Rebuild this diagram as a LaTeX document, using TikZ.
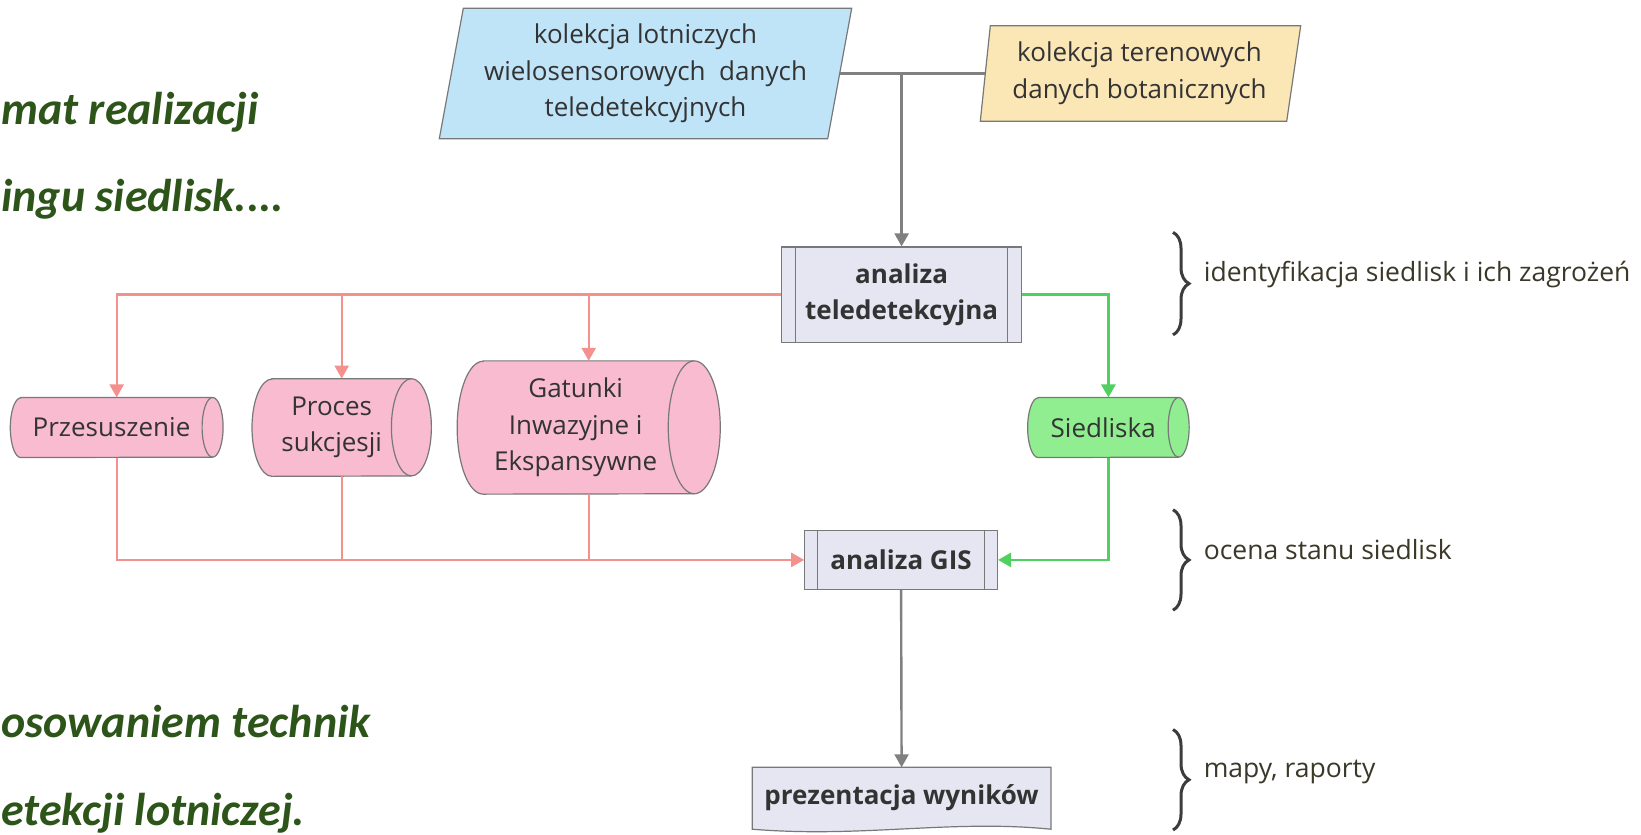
\documentclass[tikz,border=0pt]{standalone}
\usepackage{fontspec}
\setmainfont{Open Sans}
\newfontfamily\titlefont{Carlito}
\usetikzlibrary{arrows.meta,decorations.pathreplacing,calc}
\definecolor{bluefill}{RGB}{191,228,248}
\definecolor{yellowfill}{RGB}{251,230,182}
\definecolor{lavfill}{RGB}{230,230,242}
\definecolor{pinkfill}{RGB}{248,187,208}
\definecolor{greenfill}{RGB}{144,238,144}
\definecolor{redcol}{RGB}{244,144,142}
\definecolor{greencol}{RGB}{80,208,96}
\definecolor{graycol}{RGB}{128,128,128}
\definecolor{bordercol}{RGB}{120,120,120}
\definecolor{txtcol}{RGB}{51,51,51}
\definecolor{sidecol}{RGB}{58,56,40}
\definecolor{titlegreen}{RGB}{45,85,25}
\definecolor{bracecol}{RGB}{60,60,60}
\newcommand\drawcyl[4]{%
  \filldraw[draw=bordercol, line width=1.2pt, fill=#4]
    ([xshift=#2]#1.north west) -- ([xshift=-#2]#1.north east)
    arc[start angle=90, end angle=-90, x radius=#2, y radius=#3]
    -- ([xshift=#2]#1.south west)
    arc[start angle=270, end angle=90, x radius=#2, y radius=#3] -- cycle;
  \draw[draw=bordercol, line width=1.2pt]
    ([xshift=-#2]#1.north east)
    arc[start angle=90, end angle=270, x radius=#2, y radius=#3];}
\begin{document}
\begin{tikzpicture}[x=1pt,y=1pt,
  shapeonly/.style={inner sep=0pt, draw=none},
  lbl/.style={text=txtcol, font=\fontsize{26}{36.6}\selectfont, align=center, inner sep=0pt},
  blbl/.style={text=txtcol, font=\fontsize{26}{35.6}\selectfont\bfseries, align=center, inner sep=0pt},
  sidelbl/.style={text=sidecol, font=\fontsize{26.5}{34}\selectfont, anchor=west, inner sep=0pt},
  titletext/.style={text=titlegreen, font=\titlefont\fontsize{46}{46}\selectfont\bfseries\itshape, inner sep=0pt, anchor=base west},
  procbox/.style={draw=bordercol, line width=1.2pt, fill=lavfill, inner sep=0pt},
  outline/.style={draw=bordercol, line width=1.2pt},
  tip/.style={-{Triangle[length=13pt,width=14pt]}},
  grayline/.style={draw=graycol, line width=2.4pt},
  redline/.style={draw=redcol, line width=2.4pt},
  greenline/.style={draw=greencol, line width=2.8pt},
  bracestyle/.style={decorate, decoration={brace, amplitude=16pt}, draw=bracecol, line width=3pt}
]
\useasboundingbox (0,0) rectangle (1641,-835);

% titles (visible parts)
\node[titletext] (t1) at (1,-124.5) {mat realizacji};
\node[titletext] (t2) at (1,-211.4) {ingu siedlisk....};
\node[titletext] (t3) at (1,-737.9) {osowaniem technik};
\node[titletext] (t4) at (1,-825.8) {etekcji lotniczej.};

% blue parallelogram
\node[shapeonly, minimum width=388, minimum height=130] (blue) at (645.5,-73.5) {};
\filldraw[outline, fill=bluefill] ([xshift=12]blue.north west) -- ([xshift=12]blue.north east)
  -- ([xshift=-12]blue.south east) -- ([xshift=-12]blue.south west) -- cycle;
\node[lbl] (bluet) at (blue.center) {kolekcja lotniczych\\wielosensorowych\ \ danych\\teledetekcyjnych};

% yellow parallelogram
\node[shapeonly, minimum width=308, minimum height=95] (yellow) at (1139.5,-73.5) {};
\filldraw[outline, fill=yellowfill] ([xshift=5]yellow.north west) -- ([xshift=7]yellow.north east)
  -- ([xshift=-7]yellow.south east) -- ([xshift=-5]yellow.south west) -- cycle;
\node[lbl] (yellowt) at (yellow.center) {kolekcja terenowych\\danych botanicznych};

% analiza teledetekcyjna
\node[procbox, minimum width=239.7, minimum height=95.2] (tele) at (901.6,-294.6) {};
\draw[outline] ([xshift=14.7]tele.north west) -- ([xshift=14.7]tele.south west);
\draw[outline] ([xshift=-14.7]tele.north east) -- ([xshift=-14.7]tele.south east);
\node[blbl] (telet) at (tele.center) {analiza\\teledetekcyjna};

% cylinders
\node[shapeonly, minimum width=212.4, minimum height=59.7] (prz) at (116.7,-427.5) {};
\drawcyl{prz}{10.5}{29.85}{pinkfill}
\node[lbl] (przt) at ([xshift=-5.2]prz.center) {Przesuszenie};

\node[shapeonly, minimum width=179, minimum height=97.3] (proc) at (341.7,-427.5) {};
\drawcyl{proc}{20}{48.65}{pinkfill}
\node[lbl] (proct) at ([xshift=-10]proc.center) {Proces\\sukcjesji};

\node[shapeonly, minimum width=262.7, minimum height=132.9] (gat) at (588.7,-427.5) {};
\drawcyl{gat}{26}{66.45}{pinkfill}
\node[lbl] (gatt) at ([xshift=-13]gat.center) {Gatunki\\Inwazyjne i\\Ekspansywne};

\node[shapeonly, minimum width=161.1, minimum height=59.7] (sied) at (1108.4,-427.5) {};
\drawcyl{sied}{10.5}{29.85}{greenfill}
\node[lbl] (siedt) at ([xshift=-5.2]sied.center) {Siedliska};

% analiza GIS
\node[procbox, minimum width=192.6, minimum height=58.6] (gis) at (901.1,-559.9) {};
\draw[outline] ([xshift=13.6]gis.north west) -- ([xshift=13.6]gis.south west);
\draw[outline] ([xshift=-13.6]gis.north east) -- ([xshift=-13.6]gis.south east);
\node[blbl] (gist) at (gis.center) {analiza GIS};

% prezentacja
\node[shapeonly, minimum width=298.3, minimum height=61.5] (prez) at (901.6,-798.25) {};
\filldraw[outline, fill=lavfill] (prez.south west) -- (prez.north west) -- (prez.north east) -- (prez.south east)
  .. controls +(-100,10) and +(110,-9) .. (prez.south west) -- cycle;
\node[blbl] (prezt) at ([yshift=0.5]prez.center) {prezentacja wyników};

% connectors
\coordinate (j1) at (tele.north |- blue.east);
\draw[grayline] (blue.east) -- (yellow.west);
\draw[grayline, tip] (j1) -- (tele.north);

\draw[redline, tip] (tele.west) -| (prz.north);
\draw[redline, tip] (tele.west -| proc.north) -- (proc.north);
\draw[redline, tip] (tele.west -| gat.north) -- (gat.north);

\draw[greenline, tip] (tele.east) -| (sied.north);
\draw[greenline, tip] (sied.south) |- (gis.east);

\draw[redline, tip] (prz.south) |- (gis.west);
\draw[redline] (proc.south) -- (proc.south |- gis.west);
\draw[redline] (gat.south) -- (gat.south |- gis.west);

\draw[grayline, tip] (gis.south) -- (prez.north);

% braces and side labels
\draw[bracestyle] (1173,-232.3) -- (1173,-334.9);
\draw[bracestyle] (1173,-509.7) -- (1173,-610.2);
\draw[bracestyle] (1173,-729.5) -- (1173,-830);
\node[sidelbl] (s1) at (1203.6,-274.2) {identyfikacja siedlisk i ich zagrożeń};
\node[sidelbl] (s2) at (1203.6,-549.5) {ocena stanu siedlisk};
\node[sidelbl] (s3) at (1203.6,-772.4) {mapy, raporty};
\end{tikzpicture}
\end{document}
